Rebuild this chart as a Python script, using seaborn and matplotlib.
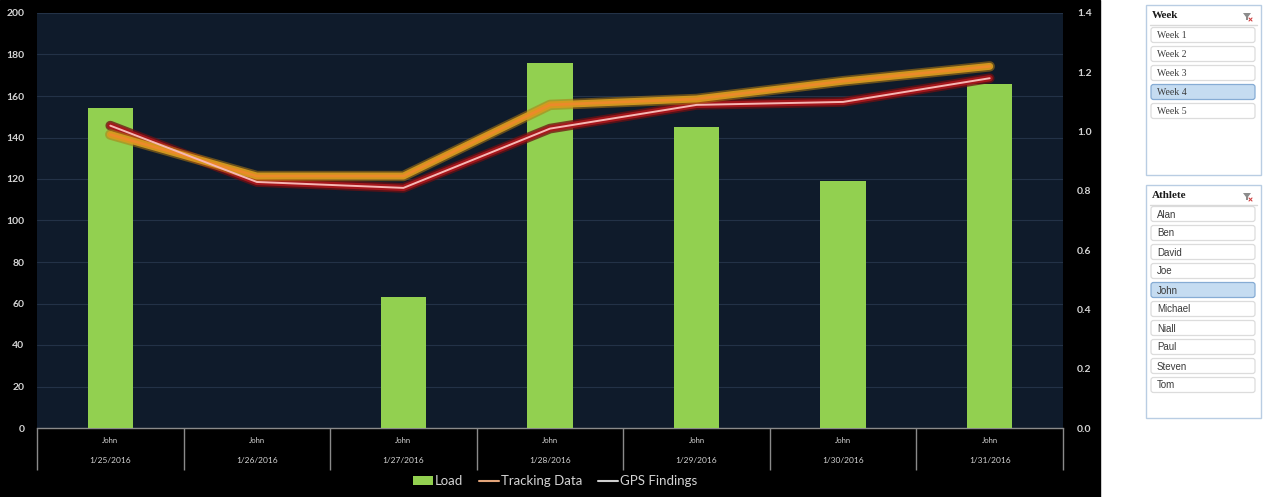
import numpy as np
import pandas as pd
import matplotlib
matplotlib.use("Agg")
import matplotlib.pyplot as plt
import seaborn as sns
from matplotlib.patches import Rectangle, FancyBboxPatch, Patch, Polygon
from matplotlib.lines import Line2D

# ---- data ----
athlete = "John"
dates = ["1/25/2016", "1/26/2016", "1/27/2016", "1/28/2016",
         "1/29/2016", "1/30/2016", "1/31/2016"]
load = [154, np.nan, 63, 176, 145, 119, 166]
tracking = [0.99, 0.85, 0.85, 1.09, 1.11, 1.17, 1.22]
gps = [1.02, 0.83, 0.81, 1.01, 1.09, 1.10, 1.18]
load_ticks = [0, 20, 40, 60, 80, 100, 120, 140, 160, 180, 200]
ratio_ticks = [0.0, 0.2, 0.4, 0.6, 0.8, 1.0, 1.2, 1.4]
weeks = ["Week 1", "Week 2", "Week 3", "Week 4", "Week 5"]
selected_week = "Week 4"
athletes = ["Alan", "Ben", "David", "Joe", "John", "Michael",
            "Niall", "Paul", "Steven", "Tom"]
selected_athlete = "John"

df = pd.DataFrame({"Date": dates, "Load": load,
                   "Tracking": tracking, "GPS": gps})
df["pos"] = np.arange(len(df))

sns.set_theme(style="dark")
plt.rcParams["font.family"] = ["Lato", "DejaVu Sans"]

W, H = 1265, 497
GREEN = "#92d050"
TXT = "#d4d4d4"

fig = plt.figure(figsize=(W / 100, H / 100), dpi=100, facecolor="white")

# background layer in pixel coordinates: black chart area + slicers
bg = fig.add_axes([0, 0, 1, 1], zorder=0)
bg.set_xlim(0, W)
bg.set_ylim(H, 0)
bg.axis("off")
bg.add_patch(Rectangle((0, 0), 1100, H, color="black"))

# ---- main chart ----
ax = fig.add_axes([37 / W, (H - 428) / H, (1063 - 37) / W, (428 - 13) / H], zorder=2)
ax.set_facecolor("#0f1b2b")
sns.barplot(data=df, x="Date", y="Load", order=dates, color=GREEN,
            saturation=1, width=0.31, errorbar=None, ax=ax, zorder=3,
            edgecolor="none", linewidth=0)
ax.set_xlim(-0.5, len(dates) - 0.5)
ax.set_ylim(0, 200)
ax.set_yticks(load_ticks)
ax.yaxis.grid(True, color="#233247", lw=0.8)
ax.xaxis.grid(False)
ax.set_axisbelow(True)
ax.set_xlabel("")
ax.set_ylabel("")
ax.set_xticks(range(len(dates)))
ax.set_xticklabels([""] * len(dates))
ax.tick_params(axis="y", colors=TXT, labelsize=7.5, length=0, pad=9)
ax.tick_params(axis="x", length=0)
for lab in ax.get_yticklabels():
    lab.set_fontweight("bold")
for s in ["top", "left", "right"]:
    ax.spines[s].set_visible(False)
ax.spines["bottom"].set_color("#8a8a8a")
ax.spines["bottom"].set_linewidth(1)

# two-level category labels and separators
xt = ax.get_xaxis_transform()
for i, d in enumerate(dates):
    ax.text(i, -0.029, athlete, transform=xt, ha="center", va="center",
            fontsize=5.5, color=TXT, clip_on=False)
    ax.text(i, -0.078, d, transform=xt, ha="center", va="center",
            fontsize=6, color=TXT, clip_on=False)
ax.vlines(np.arange(-0.5, len(dates)), -0.10, 0, transform=xt,
          colors="#8a8a8a", lw=1, clip_on=False)

# secondary axis with glowing lines
ax2 = ax.twinx()
ax2.set_ylim(0, 1.4)
ax2.set_yticks(ratio_ticks)
ax2.set_yticklabels([f"{v:.1f}" for v in ratio_ticks])
ax2.tick_params(axis="y", colors=TXT, labelsize=7.5, length=0, pad=10)
for lab in ax2.get_yticklabels():
    lab.set_fontweight("bold")
ax2.grid(False)
for s in ax2.spines.values():
    s.set_visible(False)

for lw, col, a in [(7, "#6e0f12", 0.75), (4.5, "#a8171c", 0.95)]:
    sns.lineplot(data=df, x="pos", y="GPS", color=col, lw=lw, alpha=a,
                 ax=ax2, zorder=4, solid_capstyle="round")
for lw, col, a in [(7.5, "#b07a10", 0.55), (5, "#d79a1f", 0.95), (2, "#ec8a2a", 1)]:
    sns.lineplot(data=df, x="pos", y="Tracking", color=col, lw=lw, alpha=a,
                 ax=ax2, zorder=5, solid_capstyle="round")
sns.lineplot(data=df, x="pos", y="GPS", color="#f6b7b4", lw=1.4,
             ax=ax2, zorder=6, solid_capstyle="round")
ax2.set_xlabel("")
ax2.set_ylabel("")
ax.set_xlim(-0.5, len(dates) - 0.5)

# legend
handles = [Patch(facecolor=GREEN, edgecolor="none"),
           Line2D([], [], color="#e2a47a", lw=1.5),
           Line2D([], [], color="#cfcfcf", lw=1.5)]
leg = fig.legend(handles, ["Load", "Tracking Data", "GPS Findings"],
                 loc="center", bbox_to_anchor=(555 / W, (H - 481) / H),
                 ncol=3, frameon=False, fontsize=9.5, handlelength=1.5,
                 handleheight=0.6, handletextpad=0.15, columnspacing=1.2)
for t in leg.get_texts():
    t.set_color(TXT)


# ---- slicers ----
def funnel(x, y):
    bg.add_patch(Polygon([[x - 4, y - 3], [x + 4, y - 3], [x + 1, y + 1],
                          [x + 1, y + 4], [x - 1, y + 4], [x - 1, y + 1]],
                         closed=True, fc="#8c8c8c", ec="none"))
    bg.plot([x + 2, x + 5], [y + 2, y + 5], color="#d04040", lw=0.8)
    bg.plot([x + 2, x + 5], [y + 5, y + 2], color="#d04040", lw=0.8)


def slicer(x0, y0, w, h, title, items, selected, first_y, step, family):
    bg.add_patch(Rectangle((x0, y0), w, h, fc="white", ec="#b9cde3", lw=1))
    bg.text(x0 + 6, y0 + 11, title, fontsize=8, fontweight="bold",
            family="Liberation Serif", color="#1a1a1a", va="center")
    funnel(x0 + w - 14, y0 + 11)
    bg.plot([x0 + 4, x0 + w - 4], [y0 + 20, y0 + 20], color="#d9d9d9", lw=1)
    for k, it in enumerate(items):
        cy = first_y + k * step
        sel = it == selected
        bg.add_patch(FancyBboxPatch((x0 + 5, cy - 7.5), w - 11, 15,
                                    boxstyle="round,pad=0,rounding_size=2.5",
                                    fc="#c5dcf1" if sel else "white",
                                    ec="#86acd4" if sel else "#dcdcdc", lw=0.9))
        bg.text(x0 + 11, cy + 0.5, it, fontsize=7, color="#3a3a3a",
                va="center", family=family)


slicer(1146, 5, 115, 170, "Week", weeks, selected_week, 35, 19,
       "Liberation Serif")
slicer(1146, 185, 115, 233, "Athlete", athletes, selected_athlete, 214, 19,
       "Liberation Sans")

fig.savefig("out.png", dpi=100, facecolor=fig.get_facecolor())
